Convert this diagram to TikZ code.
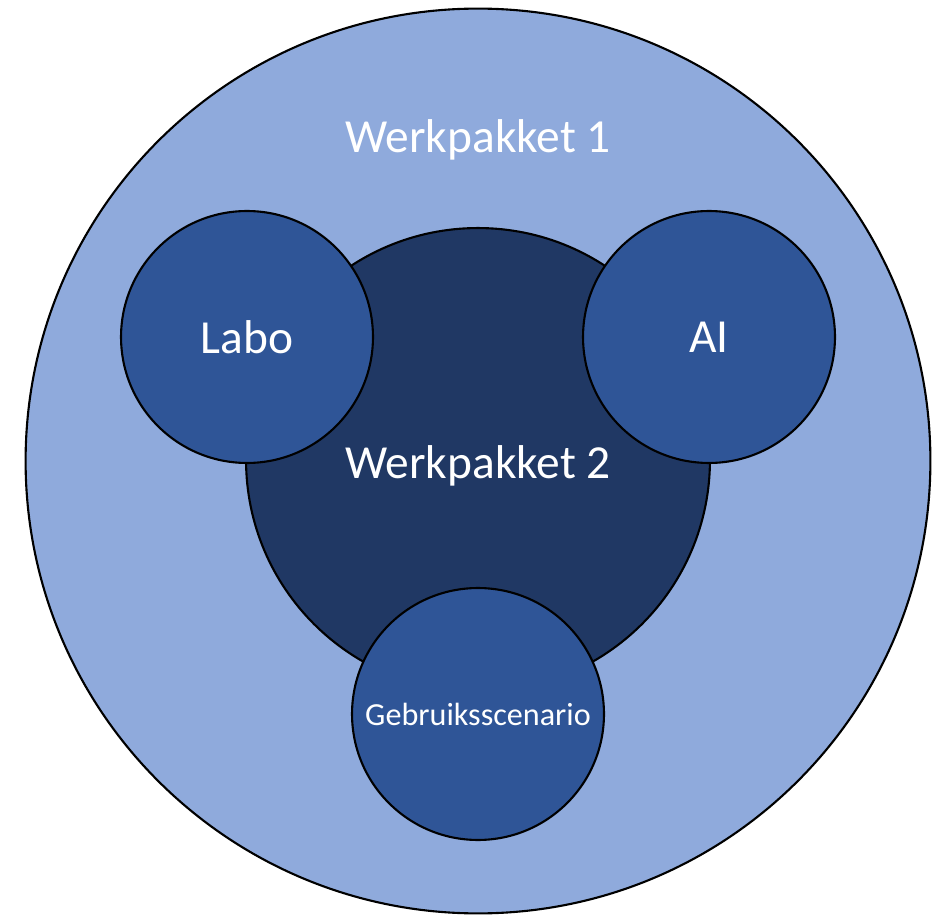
\documentclass[tikz,border=0pt]{standalone}
\usepackage{fontspec}
\setmainfont{Carlito}
\definecolor{wpLight}{HTML}{8FAADC}
\definecolor{wpDark}{HTML}{203864}
\definecolor{wpMid}{HTML}{2F5597}

\begin{document}
\begin{tikzpicture}[
    x=0.02cm, y=-0.02cm,
    every node/.style={text=white, align=center, font=\fontsize{27}{31}\selectfont},
    ring/.style={circle, draw=black, line width=1.2pt, inner sep=0pt},
    outer/.style={ring, fill=wpLight, minimum size=18.1cm},
    core/.style={ring, fill=wpDark, minimum size=9.28cm},
    part/.style={ring, fill=wpMid, minimum size=5.04cm},
    lbl/.style={anchor=base}
]
\useasboundingbox (0,0) rectangle (933,915);

% ================= WERKPAKKET 1 =================
\node[outer] (wp1) at (478,461) {};
\node[lbl] (wp1text) at (478,153) {Werkpakket 1};

% ================= WERKPAKKET 2 =================
\node[core] (wp2) at (478,460) {};
\node[lbl] (wp2text) at (478,478) {Werkpakket 2};

% ================= ONDERDELEN =================
\node[part] (labo) at (247,337) {Labo};
\node[part] (ai) at (709,337) {AI};
\node[part, font=\fontsize{18.3}{22}\selectfont] (gebruik) at (478,714) {Gebruiksscenario};

\end{tikzpicture}
\end{document}
